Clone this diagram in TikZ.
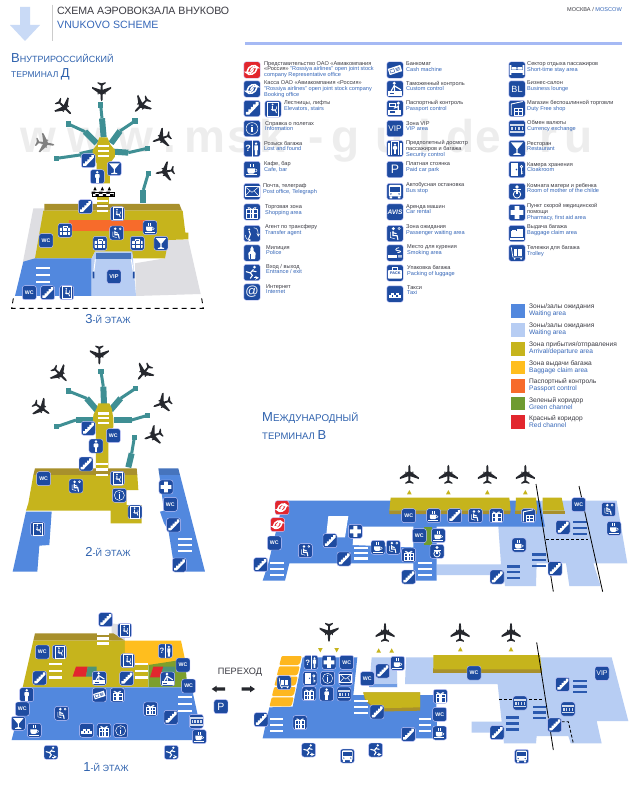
\documentclass[tikz,border=0pt]{standalone}
\usepackage{fontspec}
\setmainfont{Liberation Sans}
\definecolor{icblue}{HTML}{1E4BA0}
\definecolor{wd}{HTML}{5288DE}
\definecolor{wl}{HTML}{B7CDF3}
\definecolor{arr}{HTML}{C6B41C}
\definecolor{arrd}{HTML}{A8902C}
\definecolor{bag}{HTML}{FFBE1E}
\definecolor{pas}{HTML}{F76B2B}
\definecolor{grn}{HTML}{6F9B30}
\definecolor{rd}{HTML}{E2262E}
\definecolor{teal2}{HTML}{3F8F94}
\definecolor{gr}{HTML}{DEDEE2}
\definecolor{ink}{HTML}{3A3A42}
\definecolor{lblue}{HTML}{3566B8}
\definecolor{tblue}{HTML}{2F62AE}
\definecolor{plane}{HTML}{26282E}
\newcounter{nid}
\tikzset{
 gly/.style={text=white,inner sep=0pt,transform shape},
 lgt/.style={anchor=west,align=left,inner sep=0pt,font=\fontsize{5.6}{5.8}\selectfont},
 lgc/.style={anchor=west,align=left,inner sep=0pt,font=\fontsize{6.6}{7.2}\selectfont},
 floor/.style={text=tblue,inner sep=0pt},
 wl1/.style={white,line width=.5pt},
 th/.style={white,line width=1.1pt,line cap=round}
}
\newcommand\glt[2][]{\stepcounter{nid}\node[gly,#1] (g\arabic{nid}) at (0,0) {#2};}
\newcommand\fs[1]{\fontsize{#1}{#1}\selectfont}
\def\icscale{2.1}
\newcommand\ico[4][icblue]{\begin{scope}[shift={(#2,#3)},scale=\icscale]
 \fill[#1,draw=white!80!blue,line width=.4pt,rounded corners=2.4pt] (-10,-10) rectangle (10,10);
 \csname G#4\endcsname\end{scope}}
\newcommand\icos[1]{\foreach \ix/\iy/\ig in {#1}{\ico{\ix}{\iy}{\ig}}}
% glyphs
\def\Gstairs{\fill[white] (-7.5,7.5)--(-7.5,4)--(-4.5,4)--(-4.5,1)--(-1.5,1)--(-1.5,-2)--(1.5,-2)--(1.5,-5)--(4.5,-5)--(4.5,-8)--(8,-8)--(8,-4.5)--(-3.5,7.5)--cycle;}
\def\Gdis{\draw[wl1] (-6.5,-8.5) rectangle (6.5,8.5);\fill[white] (-.5,-5.5) circle (1.3);
 \draw[white,line width=.9pt] (-.7,-3.5)--(-.7,1)--(2.8,1)--(4.2,5);\draw[wl1] (-2.2,.3) arc (150:-30:3.6 and 3.6);}
\def\Gwc{\glt[font=\bfseries\fs{7.5}]{WC}}
\def\Gvip{\glt[font=\bfseries\fs{8}]{VIP}}
\def\GVIP{\glt[font=\fs{10}]{VIP}}
\def\GBL{\glt[font=\fs{11}]{BL}}
\def\GP{\glt[font=\fs{15}]{P}}
\def\Gavis{\glt[font=\bfseries\itshape\fs{8}]{AVIS}}
\def\Gat{\glt[font=\fs{16}]{@}}
\def\Ginfo{\draw[wl1] (0,0) circle (7.2);\fill[white] (0,-3.8) circle (1);\fill[white] (-.8,-1.6) rectangle (.8,4.6);}
\def\Gcafe{\fill[white] (-5.5,-1.5)--(3.5,-1.5)--(3.5,2.5)..controls (3.5,4.5) and (2,5) ..(1,5)--(-3,5)..controls (-4,5) and (-5.5,4.5)..(-5.5,2.5)--cycle;
 \draw[wl1] (3.5,-.5)..controls (7,-1) and (7,3) ..(3,3.2);\fill[white] (-7.5,6) rectangle (6.5,7.2);
 \draw[wl1] (-2,-3)..controls (-3,-4.5) and (-1,-5).. (-2,-7);\draw[wl1] (1,-3)..controls (0,-4.5) and (2,-5).. (1,-7);}
\def\Gcock{\fill[white] (-7.5,-7.5)--(7.5,-7.5)--(.8,.5)--(.8,5.5)--(4.5,6.8)--(4.5,7.8)--(-4.5,7.8)--(-4.5,6.8)--(-.8,5.5)--(-.8,.5)--cycle;}
\def\Gman{\fill[white] (0,-6.3) circle (2);\fill[white,rounded corners=.8pt] (-3.3,-3.8) rectangle (3.3,2);\fill[white] (-2.1,0) rectangle (2.1,8.5);}
\def\Gsuit{\fill[white,rounded corners=.6pt] (-7.5,-3.5) rectangle (7.5,6.5);\draw[wl1] (-3,-3.5)--(-3,-6)--(3,-6)--(3,-3.5);
 \draw[icblue,line width=.4pt] (-3.5,-3.5)--(-3.5,6.5) (3.5,-3.5)--(3.5,6.5) (-7.5,1.5)--(7.5,1.5);}
\def\Gwait{\fill[white] (-2,-6) circle (2);\draw[th] (-2.5,-2.5)--(-2.5,2.5)--(2.5,2.5)--(3.5,7.5);\draw[th] (-2.5,-1)--(1.5,.2);\draw[wl1] (-5.5,-2)--(-5.5,5)--(0,6.5);\draw[wl1] (5,-6) circle (1.4);}
\def\Ggift{\draw[wl1] (-6.5,-3) rectangle (6.5,8);\draw[wl1] (0,-3)--(0,8) (-6.5,2)--(6.5,2) (-2,-3)--(-2,8) (2,-3)--(2,8);\draw[wl1] (0,-3)..controls (-6,-9) and (-7,-3)..(0,-3);\draw[wl1] (0,-3)..controls (6,-9) and (7,-3)..(0,-3);}
\def\Gtaxi{\foreach \t in {-7.5,-2,3.5}{\fill[white] (\t,1) rectangle (\t+3.6,3.8);}\foreach \t in {-4.8,.8}{\fill[white] (\t,-1.8) rectangle (\t+3.6,1);}\fill[white] (-7.5,3.8) rectangle (7.5,4.6);}
\def\Gmoney{\fill[white!80!icblue] (-9,-6) rectangle (9,6);\foreach \t in {-8,-3.8,.4,4.6}{\draw[icblue,line width=.45pt] (\t,-2.5) rectangle (\t+3.4,2.5);}}
\def\Gcash{\begin{scope}[rotate=18]\fill[white] (-8,-4) rectangle (8,4);\draw[icblue,line width=.4pt] (-6,-2) rectangle (-1,2) (1,-1.5)--(6,-1.5) (1,0)--(6,0) (1,1.5)--(6,1.5);\end{scope}}
\def\Gentr{\fill[white] (3,-6.5) circle (1.8);\draw[th] (1.5,-3.5)--(-2,.5)--(-7,-1);\draw[th] (-2,.5)--(.5,3.5)--(-2,7);\draw[th] (.5,-2)--(5,-1);\draw[white,line width=.7pt,-stealth] (2,6.5)--(8.5,6.5);}
\def\Gbus{\fill[white,rounded corners=1pt] (-7.5,-8) rectangle (7.5,6);\fill[icblue] (-6,-5.5) rectangle (6,0);\fill[white] (-6.5,6) rectangle (-3.5,8.5) (3.5,6) rectangle (6.5,8.5);\fill[icblue] (-5,3) circle (1) (5,3) circle (1);}
\def\Gplus{\fill[white] (-2.8,-7.8) rectangle (2.8,7.8) (-7.8,-2.8) rectangle (7.8,2.8);}
\def\Gmail{\draw[wl1] (-8.5,-5.8) rectangle (8.5,5.8);\draw[wl1] (-8.5,-5.8)--(0,1)--(8.5,-5.8) (-8.5,5.8)--(-2.5,-1) (8.5,5.8)--(2.5,-1);}
\def\Glost{\draw[white,line width=.5pt] (0,-10)--(0,10);\begin{scope}[shift={(-4.8,0)}]\glt[font=\bfseries\fs{11}]{?}\end{scope}\fill[white] (5,-6) circle (1.6) (2.8,-3.8) rectangle (7.2,2) (3.6,2) rectangle (6.4,8);}
\def\Gcloak{\fill[white] (-7,-7.5) rectangle (1.5,7.5);\fill[icblue] (-.6,0) circle (1);\draw[white,line width=.7pt] (5.5,-3.5) circle (1.5) (5.5,-2)--(5.5,6) (5.5,3)--(7.5,3) (5.5,5)--(7.5,5);}
\def\Gcustom{\fill[white] (-1,-7) circle (2);\draw[th] (-1,-4)--(-4.5,2);\draw[th] (-1,-4)--(4,-1)--(7,1);\draw[th] (-1,-4)--(-.5,2);\fill[white] (-8.5,3) rectangle (8.5,8);\fill[icblue] (-6,5) rectangle (-1,6.2);}
\def\Gpass{\fill[white] (4,-6.5) circle (2);\draw[th] (4,-3.5)--(4,2) (4,-2.5)--(-1,-.5);\fill[white] (-8,1.5) rectangle (7.5,8);\fill[icblue] (-6,3.5) rectangle (0,6);\draw[wl1] (-7.5,-7)--(0,-7)--(0,-2.5)--(-7.5,-2.5)--cycle;}
\def\Gsecur{\draw[white,line width=.7pt] (-4.5,8.5)--(-4.5,-8.5)--(4.5,-8.5)--(4.5,8.5);\begin{scope}[scale=.75]\Gman\end{scope}\foreach \t in {-8,-6.6,6.6,8}{\draw[wl1] (\t,-7)--(\t,8);}}
\def\Gbelt{\fill[white] (-7.5,-2.5) rectangle (-.5,4);\fill[white] (.5,-6) rectangle (7.5,4);\fill[white] (-9,5) rectangle (9,7.5);\draw[wl1] (-5.5,-2.5)--(-5.5,-4)--(-2.5,-4)--(-2.5,-2.5);}
\def\Gcart{\draw[white,line width=.7pt] (-7,-7)--(-5,5)--(7,5);\fill[white] (-3.8,-4.5) rectangle (6,3.2);\fill[icblue] (-.5,-4.5) rectangle (.5,3.2);\fill[white] (-3,7) circle (1.2) (5,7) circle (1.2);}
\def\Gduty{\draw[white,line width=.9pt] (-7,8)--(-7,-5.5)--(7,-8.5);\draw[wl1] (-3.5,-.5) rectangle (7,8);\draw[wl1] (1.7,-.5)--(1.7,8) (-3.5,3.5)--(7,3.5);}
\def\Gbed{\fill[white] (-9,-6) rectangle (-7,6) (7,-6) rectangle (9,6);\fill[white] (-7,0) rectangle (7,3.5);\fill[white,rounded corners=.6pt] (-6.5,-3.5) rectangle (-.5,-.5) (.5,-3.5) rectangle (6.5,-.5);}
\def\Gmother{\fill[white] (0,-5.5) circle (2.3);\draw[white,line width=.8pt] (-5,-2)--(5,-2);\draw[white,line width=.8pt] (0,3.5) circle (4.5);\fill[white] (-.9,-2.5) rectangle (.9,3.5);}
\def\Gtrans{\fill[white] (-3.5,-5) circle (1.4);\draw[th] (-3.5,-3)--(-2,1)--(-4,6);\draw[white,line width=.5pt,-stealth] (-8,2)..controls (-8,6) and (-5,8)..(-1,8);\draw[white,line width=.5pt,-stealth] (2,-7)..controls (7,-7) and (8,-2)..(7.5,4);}
\def\Gpolice{\fill[white] (-3.8,7.5)--(-4.5,0)--(-1.8,-2.5)--(-2,-5)--(0,-8.5)--(2,-5)--(1.8,-2.5)--(4.5,0)--(3.8,7.5)--cycle;\fill[icblue] (-2,1) rectangle (-.7,7.5);}
\def\Gsmoke{\fill[white] (-8,2.5) rectangle (3,5.5);\fill[white] (4,2.5) rectangle (5.5,5.5) (6.5,2.5) rectangle (8,5.5);\draw[white,line width=.8pt] (3,-.5)..controls (8,-.5) and (8,-3)..(3,-3)..controls (0,-3) and (0,-6)..(5,-6.5);}
\def\Gpack{\fill[white,rounded corners=.8pt] (-8.5,-3.5) rectangle (8.5,7);\draw[wl1] (-3,-3.5)--(-3,-6.5)--(3,-6.5)--(3,-3.5);\glt[text=icblue,font=\bfseries\fs{4.6}]{\,PACK}}
\def\Gross{\draw[white,line width=1.5pt,line cap=round] (-6,2)..controls (-5,-5) and (4,-8)..(7,-3)..controls (4,-4) and (-1,-3)..(-1.5,.5);\draw[white,line width=1.5pt,line cap=round] (6,-2)..controls (5,5) and (-4,8)..(-7,3)..controls (-4,4) and (1,3)..(1.5,-.5);}
% helpers
\newcommand\bars[5]{\foreach \bb in {0,.5,1}{\fill[#1] ({#2-#5/2},{#3+(#4-#3)*\bb-3.5}) rectangle ({#2+#5/2},{#3+(#4-#3)*\bb+3.5});}}
\newcommand\bridge[6]{\draw[teal2,line width=3pt] (#1,#2)--(#3,#4);\draw[teal2,line width=6pt] (#3,#4)--(#5,#6);\fill[teal2] (#1-8,#2-8) rectangle (#1+8,#2+8);}
\newcommand\plane[4][plane]{\begin{scope}[shift={(#2,#3)},rotate=#4,scale=2.85]
 \fill[#1] (0,-10)..controls (1,-9.5) and (1.1,-8)..(1.1,-6)--(1.1,-3)--(3.2,-1.6)--(3.2,-2.8)--(4.2,-2.8)--(4.2,-.9)--(10,3.3)--(10,5)--(1.1,2)--(.9,6.5)--(4.2,8.8)--(4.2,10)--(0,8.8)--(-4.2,10)--(-4.2,8.8)--(-.9,6.5)--(-1.1,2)--(-10,5)--(-10,3.3)--(-4.2,-.9)--(-4.2,-2.8)--(-3.2,-2.8)--(-3.2,-1.6)--(-1.1,-3)--(-1.1,-6)..controls (-1.1,-8) and (-1,-9.5)..(0,-10)--cycle;\end{scope}}
\newcommand\triu[2]{\fill[arr] (#1-7,#2+6)--(#1+7,#2+6)--(#1,#2-7)--cycle;}
\newcommand\trid[2]{\fill[arr] (#1-7,#2-6)--(#1+7,#2-6)--(#1,#2+7)--cycle;}
\newcommand\R[1]{\textcolor{ink}{#1}}
\newcommand\E[1]{\textcolor{lblue}{#1}}
\newcommand\lgi[4]{\stepcounter{nid}\node[lgt] (t\arabic{nid}) at (#1,#2) {\R{#3}\\\E{#4}};}
\newcommand\lcc[3]{\stepcounter{nid}\node[lgc] (t\arabic{nid}) at (529,#1) {\R{#2}\\\E{#3}};}
\newcommand\flabel[4]{\node[floor] (#1) at (#2,#3) {\fs{13}#4{\fs{9}-Й ЭТАЖ}};}
\newcommand\swatch[3]{\fill[#1] (511,#2) rectangle (525,#3);}
\begin{document}
\begin{tikzpicture}[x=1pt,y=-1pt]
\useasboundingbox (0,0) rectangle (638,800);
\fill[white] (0,0) rectangle (638,800);
% watermark
\begin{scope}[opacity=.14]
\foreach \wx/\wc in {38/w,85/w,135/w,170/.,205/m,240/s,272/k,316/-,346/g,390/u,425/i,461/d,488/e,525/.,548/r,579/u}{\stepcounter{nid}\node[inner sep=0pt,anchor=base,text=gray,font=\bfseries\fs{46}] (w\arabic{nid}) at (\wx,152) {\wc};}
\end{scope}
% header
\fill[wl!75!white] (20,7)--(30,7)--(30,25)--(40,25)--(25,41)--(10,25)--(20,25)--cycle;
\draw[gray!40,line width=.5pt] (52,5)--(52,41);
\node[anchor=west,inner sep=0pt,text=ink,font=\fs{10.6}] (title) at (57,10.5) {СХЕМА АЭРОВОКЗАЛА ВНУКОВО};
\node[anchor=west,inner sep=0pt,text=lblue,font=\fs{10.6}] (titleen) at (57,25) {VNUKOVO SCHEME};
\node[anchor=east,inner sep=0pt,font=\fs{5.6}] (city) at (622,9) {\R{МОСКВА /} \E{MOSCOW}};
\fill[wl!90!blue] (245,42.5) rectangle (622,45.5);
\node[anchor=west,inner sep=0pt,text=tblue] (dt1) at (11,58) {\fs{13}В\fs{9}НУТРИРОССИЙСКИЙ};
\node[anchor=west,inner sep=0pt,text=tblue] (dt2) at (11,74.5) {\fs{8.5}ТЕРМИНАЛ \fs{13}Д};
\node[anchor=west,inner sep=0pt,text=tblue] (it1) at (262,418) {\fs{13}М\fs{9.8}ЕЖДУНАРОДНЫЙ};
\node[anchor=west,inner sep=0pt,text=tblue] (it2) at (262,435) {\fs{9.5}ТЕРМИНАЛ \fs{13}В};
% legend icons
\def\icscale{.82}
\ico[rd]{252}{70}{ross}\ico{252}{89}{ross}\ico{252}{108.5}{stairs}\ico{273}{109}{dis}\ico{252}{128.5}{info}\ico{252}{148.5}{lost}\ico{252}{169.5}{cafe}\ico{252}{191.5}{mail}\ico{252}{212}{gift}\ico{252}{233.5}{trans}\ico{252}{253}{police}\ico{252}{272.5}{entr}\ico{252}{292}{at}
\foreach \ix/\iy/\ig in {395/70/cash,395/89/custom,395/108.5/pass,395/128.5/VIP,395/148.5/secur,395/169.5/P,395/191.5/bus,395/212/avis,395/233.5/wait,395/253/smoke,395/273/pack,395/294/taxi,517/70/bed,517/89/BL,517/108.5/duty,517/128.5/money,517/148.5/cock,517/169.5/cloak,517/191.5/mother,517/212.5/plus,517/233.5/belt,517/253/cart}{\ico{\ix}{\iy}{\ig}}
% legend text
\node[lgt] (l1) at (264,69.5) {\R{Представительство ОАО «Авиакомпания}\\\R{«Россия»} \E{"Rossiya airlines" open joint stock}\\\E{company Representative office}};
\node[lgt] (l2) at (264,89) {\R{Касса ОАО «Авиакомпания «Россия»}\\\E{"Rossiya airlines" open joint stock company}\\\E{Booking office}};
\lgi{284}{106}{Лестницы, лифты}{Elevators, stairs}
\lgi{265}{126}{Справка о полетах}{Information}
\lgi{264}{146}{Розыск багажа}{Lost and found}
\lgi{264}{167}{Кафе, бар}{Cafe, bar}
\lgi{263}{189}{Почта, телеграф}{Post office, Telegraph}
\lgi{265}{210}{Торговая зона}{Shopping area}
\lgi{265}{230}{Агент по трансферу}{Transfer agent}
\lgi{266}{250}{Милиция}{Police}
\lgi{266}{269}{Вход / выход}{Entrance / exit}
\lgi{266}{289}{Интернет}{Internet}
\lgi{406}{67}{Банкомат}{Cash machine}
\lgi{406}{86}{Таможенный контроль}{Custom control}
\lgi{406}{106}{Паспортный контроль}{Passport control}
\lgi{406}{126}{Зона VIP}{VIP area}
\node[lgt] (l3) at (406,149) {\R{Предполетный досмотр}\\\R{пассажиров и багажа}\\\E{Security control}};
\lgi{406}{167}{Платная стоянка}{Paid car park}
\lgi{406}{188}{Автобусная остановка}{Bus stop}
\lgi{406}{209}{Аренда машин}{Car rental}
\lgi{406}{230}{Зона ожидания}{Passenger waiting area}
\lgi{407}{250}{Место для курения}{Smoking area}
\lgi{407}{271}{Упаковка багажа}{Packing of luggage}
\lgi{407}{290}{Такси}{Taxi}
\lgi{527}{67}{Сектор отдыха пассажиров}{Short-time stay area}
\lgi{527}{86}{Бизнес-салон}{Business lounge}
\lgi{527}{106}{Магазин беспошлинной торговли}{Duty Free shop}
\lgi{527}{126}{Обмен валюты}{Currency exchange}
\lgi{527}{146}{Ресторан}{Restaurant}
\lgi{527}{167}{Камера хранения}{Cloakroom}
\lgi{527}{188}{Комната матери и ребенка}{Room of mother of the childe}
\node[lgt] (l4) at (527,212) {\R{Пункт скорой медицинской}\\\R{помощи}\\\E{Pharmacy, first aid area}};
\lgi{527}{230}{Выдача багажа}{Baggage claim area}
\lgi{527}{251}{Тележки для багажа}{Trolley}
% colour legend
\swatch{wd}{304}{318}\swatch{wl}{323}{337}\swatch{arr}{342}{356}\swatch{bag}{361}{374}\swatch{pas}{379}{393}\swatch{grn}{397}{410}\swatch{rd}{415}{429}
\lcc{310}{Зоны/залы ожидания}{Waiting area}
\lcc{329}{Зоны/залы ожидания}{Waiting area}
\lcc{348}{Зона прибытия/отправления}{Arrival/departure area}
\lcc{367}{Зона выдачи багажа}{Baggage claim area}
\lcc{385.5}{Паспортный контроль}{Passport control}
\lcc{403.5}{Зеленый коридор}{Green channel}
\lcc{421.5}{Красный коридор}{Red channel}
% floor labels
\flabel{f3}{108}{319}{3}
\flabel{f2}{108}{552}{2}
\flabel{f1}{106}{767}{1}
\node[inner sep=0pt,text=ink,font=\fs{9.2}] (perehod) at (240,672) {ПЕРЕХОД};
\def\icscale{2.1}
% ---------- 3rd floor
\begin{scope}[shift={(0,50)},scale=1/3]
\fill[gr] (100,475)--(140,475)--(110,628)--(68,640)--cycle;
\fill[gr] (495,570)--(565,570)--(602,732)--(408,738)--(405,640)--(495,625)--cycle;
\fill[arrd] (133,462)--(538,462)--(546,482)--(133,482)--cycle;
\fill[arr] (130,482)--(548,482)--(556,548)--(565,548)--(565,568)--(505,570)--(495,625)--(400,625)--(395,605)--(285,605)--(275,625)--(105,625)--cycle;
\fill[wd] (105,625)--(275,625)--(275,738)--(45,738)--(70,635)--cycle;
\fill[wl] (275,625)--(285,605)--(397,605)--(408,738)--(275,738)--cycle;
\fill[wd!85!black] (288,608) rectangle (393,628);
\draw[white,line width=1pt] (286,628)--(279,685) (394,628)--(403,685);
\fill[icblue] (278,665) rectangle (283,685) (399,665) rectangle (404,685);
\fill[pas] (208,510) rectangle (445,543);
\bridge{302}{165}{306}{205}{311}{262}
\bridge{205}{222}{255}{245}{290}{280}
\bridge{405}{213}{360}{243}{333}{280}
\bridge{170}{325}{240}{315}{285}{305}
\bridge{442}{295}{385}{308}{340}{305}
\bridge{445}{370}{430}{420}{430}{458}
\fill[arr] (298,262)--(322,262)--(332,285)--(345,300)--(345,320)--(330,340)--(330,400)--(290,400)--(290,340)--(278,320)--(278,300)--(290,285)--cycle;
\fill[arr] (290,440) rectangle (328,462);
\foreach \t in {275,297,319}{\fill[black] (\t,425) rectangle (\t+11,431.5) (\t+11,431.5) rectangle (\t+22,438);\fill[white] (\t+11,425) rectangle (\t+22,431.5) (\t,431.5) rectangle (\t+11,438);}
\draw[black,line width=.3pt] (275,425) rectangle (341,438);
\foreach \t in {285,307,328}{\fill[black] (\t-5,421)--(\t+5,421)--(\t,410)--cycle;}
\bars{white}{310}{289}{319}{32}
\bars{white}{307}{453}{483}{34}
\bars{white}{128}{655}{697}{42}
\icos{265/332/stairs,343/356/cock,292/380/man,256/470/stairs,352/491/dis,195/541/suit,138/572/wc,350/549/wait,450/533/cafe,483/580/cock,300/580/suit,412/580/suit,88/728/wc,143/728/stairs,200/728/dis,342/680/vip}
\draw[black,line width=.9pt,dash pattern=on 5pt off 4pt] (40,745)--(35,775)--(610,775)--(605,745);
\plane{305}{125}{180}\plane{193}{172}{-135}\plane{425}{165}{135}\plane{485}{265}{110}\plane[gray]{135}{280}{-100}\plane{495}{365}{100}
\end{scope}
% ---------- 2nd floor
\begin{scope}[shift={(0,340)},scale=1/3]
\bridge{303}{95}{310}{140}{312}{192}
\bridge{205}{153}{260}{175}{292}{212}
\bridge{407}{145}{362}{175}{332}{210}
\bridge{170}{260}{228}{240}{285}{240}
\bridge{443}{226}{395}{240}{342}{240}
\bridge{403}{293}{395}{340}{385}{382}
\fill[arr] (295,190)--(328,190)--(335,205)--(340,235)--(340,262)--(325,278)--(325,385)--(288,385)--(288,275)--(278,255)--(280,225)--(290,205)--cycle;
\fill[arrd] (105,385)--(410,385)--(412,405)--(100,405)--cycle;
\fill[arr] (100,405)--(412,405)--(415,450)--(380,450)--(380,495)--(425,495)--(425,550)--(332,550)--(332,512)--(78,512)--(85,490)--cycle;
\fill[wd] (78,515)--(155,515)--(148,615)--(118,617)--(112,695)--(38,695)--cycle;
\fill[wd!85!black] (475,385)--(535,385)--(540,405)--(478,405)--cycle;
\fill[wd] (478,405)--(540,405)--(615,695)--(525,695)--(505,570)--(492,550)--(480,515)--(492,512)--cycle;
\bars{white}{311}{220}{248}{34}
\bars{white}{307}{372}{404}{36}
\bars{white}{555}{597}{632}{42}
\icos{265/265/stairs,340/287/wc,288/318/man,258/372/stairs,352/415/dis,131/416/wc,228/438/wait,358/466/info,405/516/dis,113/567/dis,498/441/plus,511/493/wc,521/555/stairs,538/675/stairs}
\plane{298}{45}{180}\plane{180}{103}{-135}\plane{432}{97}{140}\plane{487}{190}{110}\plane{125}{205}{-125}\plane{460}{287}{110}
\end{scope}
% ---------- 1st floor D
\begin{scope}[shift={(0,600)},scale=1/3]
\fill[gr] (335,70)--(370,75)--(375,122)--(335,122)--cycle;
\fill[arrd] (105,100)--(340,100)--(375,122)--(100,122)--cycle;
\fill[arr] (100,122)--(375,122)--(375,262)--(68,262)--cycle;
\fill[bag] (375,122)--(543,122)--(555,178)--(530,195)--(375,195)--cycle;
\fill[arr] (375,195) rectangle (445,262);
\fill[grn!85!arr] (445,195)--(555,178)--(562,262)--(445,262)--cycle;
\fill[rd] (228,200)--(263,200)--(258,230)--(218,230)--cycle;
\fill[teal2!70!grn] (263,200)--(290,200)--(290,230)--(258,230)--cycle;
\fill[rd] (460,200)--(490,200)--(480,232)--(450,232)--cycle;
\fill[teal2!70!grn] (490,200)--(525,200)--(525,232)--(480,232)--cycle;
\fill[wd] (68,262)--(575,262)--(592,340)--(605,420)--(35,420)--(58,330)--cycle;
\bars{white}{308}{100}{130}{36}
\bars{white}{167}{192}{232}{38}
\bars{white}{425}{192}{232}{38}
\bars{white}{556}{290}{332}{42}
\icos{317/59/stairs,374/91/dis,127/156/wc,178/156/dis,496/153/lost,383/182/dis,549/195/wc,119/234/stairs,298/235/custom,380/235/stairs,503/237/custom,566/258/wc,80/284/man,298/285/cash,352/285/gift,67/327/wc,185/340/wait,452/327/gift,513/352/stairs,589/364/money,55/370/cock,103/391/cafe,260/391/taxi,312/391/gift,362/392/info,598/410/cafe,153/457/entr,514/457/entr,663/320/P}
\end{scope}
% ---------- International upper
\begin{scope}[shift={(240,450)},scale=1/3]
\fill[wl] (775,230)--(905,152)--(1130,152)--(1162,340)--(1060,340)--(1082,408)--(988,408)--(978,340)--(890,340)--(888,408)--(795,408)--(790,375)--(590,375)--(590,343)--(783,343)--cycle;
\fill[wd] (130,152)--(900,152)--(915,230)--(590,230)--(590,392)--(520,392)--(520,340)--(148,340)--(135,392)--(68,392)--(85,340)--cycle;
\fill[white] (265,198)--(325,198)--(315,262)--(258,262)--cycle;
\fill[white] (342,230)--(520,230)--(520,292)--(338,285)--cycle;
\fill[grn] (552,230) rectangle (575,285);
\fill[arrd] (448,182)--(812,182)--(810,192)--(448,192)--cycle;
\fill[arr] (452,143)--(808,143)--(812,182)--(448,182)--cycle;
\fill[arrd] (826,182)--(892,182)--(892,192)--(826,192)--cycle;
\fill[arr] (828,143)--(888,143)--(892,182)--(826,182)--cycle;
\fill[arrd] (908,182)--(975,182)--(975,192)--(908,192)--cycle;
\fill[arr] (908,143)--(965,143)--(973,182)--(908,182)--cycle;
\foreach \t in {508,625,742,856}{\triu{\t}{127}\plane{\t}{73}{0}}
\bars{white}{110}{338}{375}{42}
\bars{white}{363}{293}{325}{40}
\bars{white}{555}{338}{375}{42}
\bars{icblue!75!wd}{1020}{215}{252}{40}
\bars{icblue!75!wd}{897}{313}{347}{40}
\bars{icblue!75!wd}{820}{349}{384}{40}
\draw[black,line width=.8pt] (888,102)--(940,425) (1017,108)--(1088,425);
\draw[black,line width=.8pt,dash pattern=on 3pt off 2pt] (918,267)--(1045,267);
\ico[rd]{126}{173}{ross}\ico[rd]{113}{224}{ross}
\icos{103/279/wc,62/344/stairs,196/302/wait,270/272/stairs,346/244/plus,312/327/stairs,414/292/cafe,460/292/wait,506/315/gift,506/197/wc,581/197/cafe,644/197/stairs,706/197/wait,769/197/gift,865/197/duty,538/257/wc,595/257/cafe,591/304/mother,506/381/stairs,1016/164/wc,969/232/stairs,1106/178/wait,1122/235/cafe,837/285/cafe,771/381/stairs,945/356/stairs}
\end{scope}
% ---------- International lower
\begin{scope}[shift={(200,610)},scale=1/3]
\fill[wd] (308,142)--(472,142)--(460,255)--(708,255)--(712,385)--(188,385)--(208,292)--(278,290)--cycle;
\foreach \k in {0,1,2,3,4}{\fill[bag!92!pas,rounded corners=1pt] ({245-7.4*\k},{138+31*\k})--({305-6*\k},{138+31*\k})--({300-6*\k},{160+31*\k})--({295-6*\k},{165+31*\k})--({238-7.4*\k},{165+31*\k})--cycle;}
\fill[arrd] (490,247)--(660,247)--(660,302)--(525,305)--(510,285)--(495,270)--cycle;
\fill[arr] (490,247)--(660,247)--(660,292)--(525,295)--(510,280)--(495,265)--cycle;
\fill[wl] (515,142)--(590,142)--(592,232)--(508,232)--cycle;
\fill[wd!70!wl] (508,222) rectangle (592,232);
\fill[wl] (618,142)--(1235,142)--(1285,333)--(1190,333)--(1205,400)--(1112,400)--(1105,378)--(1010,378)--(1008,400)--(912,400)--(908,368)--(815,368)--(815,335)--(905,335)--(893,222)--(615,222)--cycle;
\fill[arrd] (700,175)--(1025,175)--(1025,188)--(700,188)--cycle;
\fill[arr] (700,135)--(1020,135)--(1025,178)--(700,178)--cycle;
\draw[black,line width=.8pt] (1010,97)--(1060,420);
\draw[black,line width=.8pt,dash pattern=on 3pt off 2pt] (898,268)--(1030,268);
\draw[black,line width=.8pt,dash pattern=on 3pt off 2pt] (1085,335)--(1105,335)--(1120,400);
\plane{387}{67}{180}\plane{555}{67}{0}\plane{780}{67}{0}\plane{933}{67}{0}
\trid{361}{120}\trid{410}{120}\triu{536}{122}\triu{575}{122}\triu{781}{118}\triu{933}{118}
\bars{white}{230}{326}{362}{40}
\bars{white}{483}{273}{309}{40}
\bars{white}{675}{326}{362}{38}
\bars{icblue!75!wd}{1140}{212}{246}{40}
\bars{icblue!75!wd}{1018}{291}{324}{38}
\bars{icblue!75!wd}{937}{322}{358}{38}
\icos{333/157/lost,387/157/plus,440/157/wc,330/205/cloak,383/205/info,437/205/mail,327/251/gift,380/252/man,432/252/money,252/218/cart,183/329/stairs,300/338/gift,531/306/stairs,721/259/gift,719/313/wc,719/369/cafe,625/373/stairs,326/420/entr,442/438/bus,527/420/entr,548/183/stairs,593/160/cafe,502/206/wc,822/189/wc,960/279/money,891/368/stairs,1206/190/VIP,1088/223/stairs,1104/297/money,1064/345/stairs,965/439/bus}
% transfer arrows
\fill[plane] (35,237)--(50,227)--(50,232)--(75,232)--(75,242)--(50,242)--(50,247)--cycle;
\fill[plane] (165,237)--(150,227)--(150,232)--(125,232)--(125,242)--(150,242)--(150,247)--cycle;
\end{scope}
\end{tikzpicture}
\end{document}
